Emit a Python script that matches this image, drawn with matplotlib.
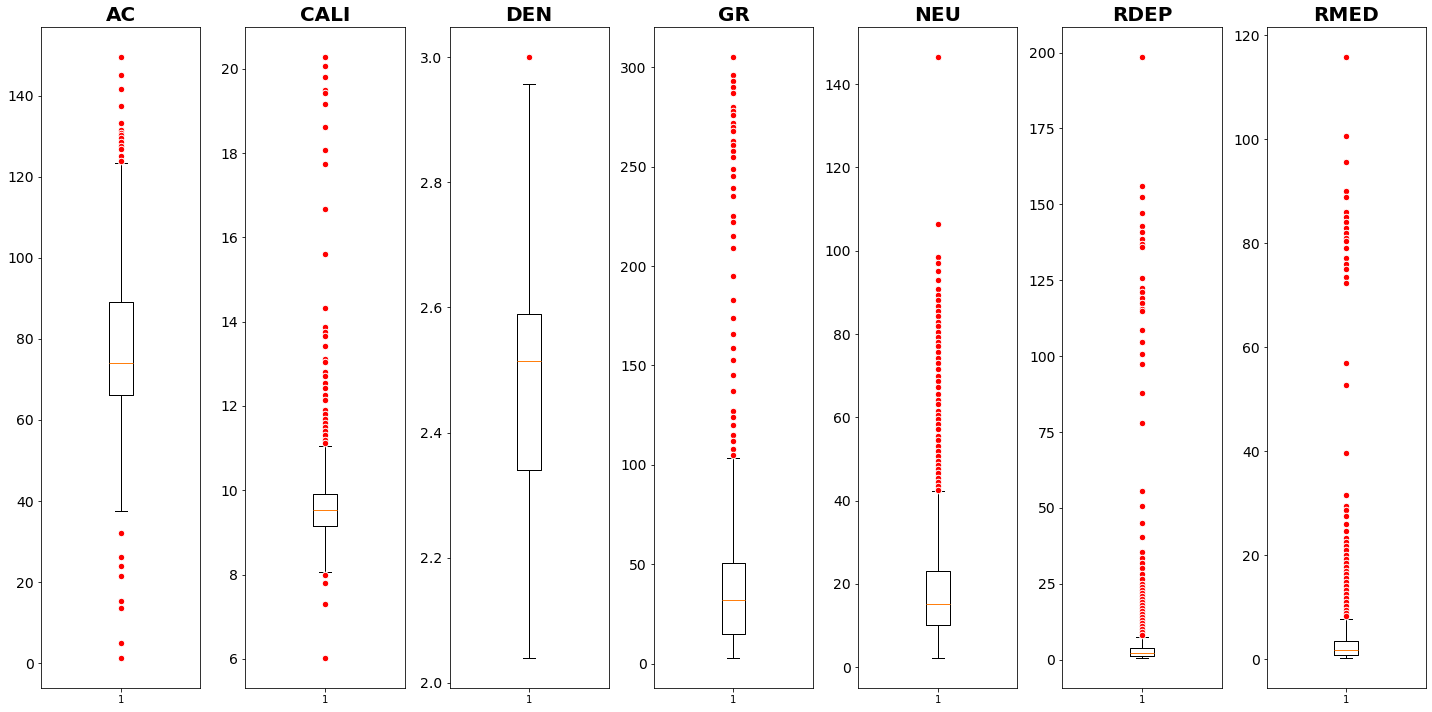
import matplotlib
matplotlib.use("Agg")
import matplotlib.pyplot as plt

# log curves, box stats
curves = ["AC", "CALI", "DEN", "GR", "NEU", "RDEP", "RMED"]

q1 = [66.2, 9.14, 2.34, 15.0, 10.1, 1.2, 0.8]
med = [74.1, 9.52, 2.515, 32.0, 15.2, 2.2, 1.7]
q3 = [89.2, 9.90, 2.59, 50.8, 23.1, 3.9, 3.4]
whislo = [37.5, 8.05, 2.04, 3.0, 2.2, 0.6, 0.2]
whishi = [123.3, 11.05, 2.957, 103.5, 42.3, 7.6, 7.6]

fliers_ac = [149.5, 145.0, 141.7, 137.5, 133.2, 131.5, 130.8, 130.2, 129.5,
             128.5, 127.5, 126.8, 125.0, 123.8,
             32.0, 26.2, 24.0, 21.5, 15.3, 13.6, 4.9, 1.3]
fliers_cali = [20.28, 20.06, 19.8, 19.5, 19.42, 19.17, 18.62, 18.08, 17.75,
               16.68, 15.6, 14.33, 13.88, 13.75, 13.65, 13.42, 13.12, 13.05,
               12.8, 12.7, 12.55, 12.42, 12.25, 12.15, 11.9, 11.8, 11.7, 11.6,
               11.5, 11.4, 11.3, 11.2, 11.12,
               8.0, 7.8, 7.3, 6.02]
fliers_den = [3.0]
fliers_gr = [305, 296, 293, 290, 287, 280, 278, 276, 272, 270, 268, 263, 261,
             258, 255, 249, 245, 239, 235, 225, 222, 215, 209, 195, 183, 174,
             166, 159, 153, 145, 137, 127, 124, 120, 115, 112, 108, 105]
fliers_neu = [146.5, 106.3, 98.5, 97.0, 95.2, 93.0, 90.8, 89.3, 88.2, 86.8,
              85.6, 84.3, 83.0, 82.0, 80.6, 79.2, 78.1, 77.0, 75.6, 74.2, 73.0,
              71.6, 70.0, 68.6, 67.2, 65.6, 64.2, 63.1, 61.6, 60.6, 59.6, 58.5,
              57.1, 55.6, 54.5, 53.1, 52.0, 50.6, 49.5, 48.5, 47.5, 46.6, 45.5,
              44.5, 43.5, 42.6]
fliers_rdep = [198.5, 156.2, 152.5, 147.0, 143.0, 140.8, 138.5, 137.0, 135.8,
               125.6, 122.6, 121.0, 119.2, 117.4, 115.6, 114.8, 108.5, 104.6,
               100.6, 97.4, 88.0, 78.0, 55.5, 50.6, 45.1, 40.6, 35.5, 33.6,
               32.0, 30.1, 28.2, 26.6, 25.1, 24.0, 23.0, 22.0, 21.0, 20.0, 19.0,
               18.0, 17.0, 16.0, 15.0, 14.0, 13.0, 12.0, 11.0, 10.0, 9.0, 8.0]
fliers_rmed = [115.8, 100.7, 95.7, 90.0, 88.8, 86.0, 85.0, 84.0, 83.0, 82.0,
               81.0, 80.5, 79.0, 77.2, 76.0, 75.0, 73.5, 72.3, 57.0, 52.8, 39.6,
               31.5, 29.5, 28.7, 27.5, 26.0, 24.7, 23.2, 22.5, 21.7, 21.0, 20.0,
               19.2, 18.5, 17.7, 17.0, 16.3, 15.5, 14.8, 14.0, 13.2, 12.5, 11.8,
               11.0, 10.2, 9.5, 8.8, 8.2]
fliers = [fliers_ac, fliers_cali, fliers_den, fliers_gr, fliers_neu,
          fliers_rdep, fliers_rmed]

fig, axes = plt.subplots(1, len(curves), figsize=(1432 / 72, 712 / 72), dpi=72)

red_circle = dict(marker="o", markerfacecolor="red", markeredgecolor="white",
                  markersize=6.5, linestyle="none")

for i, ax in enumerate(axes):
    stats = [dict(med=med[i], q1=q1[i], q3=q3[i], whislo=whislo[i],
                  whishi=whishi[i], fliers=fliers[i], label="1")]
    ax.bxp(stats, flierprops=red_circle)
    ax.set_title(curves[i], fontsize=20, fontweight="bold")
    ax.tick_params(axis="y", labelsize=14)
    ax.tick_params(axis="x", labelsize=10)

fig.subplots_adjust(left=0.0286, right=0.9958, top=0.962, bottom=0.0337,
                    wspace=0.282)
plt.savefig("out.png", dpi=72)
